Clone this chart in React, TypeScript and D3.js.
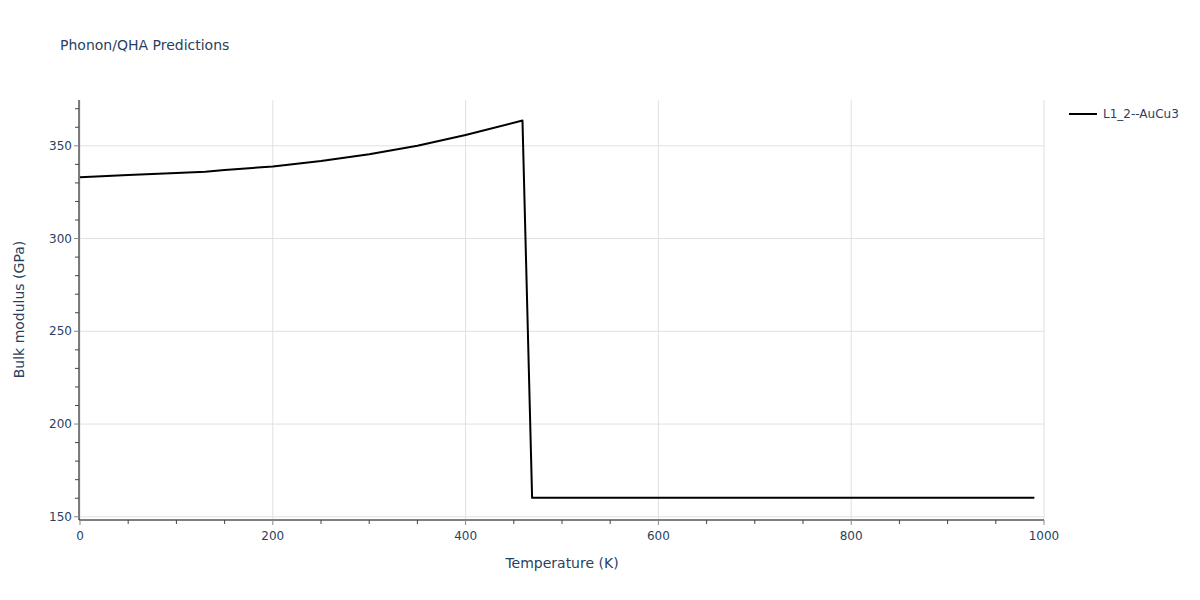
import React from "react";
import * as d3 from "d3";

const temperatures = [0, 50, 100, 130, 150, 200, 250, 300, 350, 400, 459, 469, 990];
const bulkModulus = [333.0, 334.2, 335.3, 336.0, 336.9, 338.9, 341.8, 345.5, 350.0, 355.8, 363.6, 160.2, 160.2];
const xTicks = [0, 200, 400, 600, 800, 1000];
const yTicks = [150, 200, 250, 300, 350];
const seriesName = "L1_2--AuCu3";
const titleText = "Phonon/QHA Predictions";
const xTitle = "Temperature (K)";
const yTitle = "Bulk modulus (GPa)";

const W = 1200, H = 600;
const L = 80, R = 1044, T = 100, B = 519;
const FONT = "'DejaVu Sans', Verdana, sans-serif";
const TXT = "#2a3f5f";

export default function App() {
  const x = d3.scaleLinear().domain([0, 1000]).range([L, R]);
  const y = d3.scaleLinear().domain([148.8, 374.7]).range([B, T]);
  const data = temperatures.map((t, i) => [t, bulkModulus[i]] as [number, number]);
  const line = d3.line<[number, number]>().x(d => x(d[0])).y(d => y(d[1]));
  const xMinor = d3.range(0, 1001, 50).filter(v => v % 200 !== 0);
  const yMinor = d3.range(150, 375, 10).filter(v => v % 50 !== 0);

  return (
    <svg width={W} height={H} style={{ position: "absolute", left: 0, top: 0, background: "#fff" }} fontFamily={FONT}>
      <rect x={0} y={0} width={W} height={H} fill="#fff" />
      {xTicks.map(v => (
        <line key={"gx" + v} x1={x(v)} x2={x(v)} y1={T} y2={B} stroke="#e0e0e0" strokeWidth={1} />
      ))}
      {yTicks.map(v => (
        <line key={"gy" + v} x1={L} x2={R} y1={y(v)} y2={y(v)} stroke="#e0e0e0" strokeWidth={1} />
      ))}
      <line x1={L - 1} x2={L - 1} y1={T} y2={B + 1} stroke="#000" strokeWidth={1} />
      <line x1={L - 1} x2={R} y1={B + 1} y2={B + 1} stroke="#000" strokeWidth={1} />
      {xTicks.map(v => (
        <g key={"tx" + v}>
          <line x1={x(v)} x2={x(v)} y1={B + 1} y2={B + 6} stroke="#888" strokeWidth={1} />
          <text x={x(v)} y={B + 21} textAnchor="middle" fontSize={12} fill={TXT}>{v}</text>
        </g>
      ))}
      {xMinor.map(v => (
        <line key={"mx" + v} x1={x(v)} x2={x(v)} y1={B + 1} y2={B + 5} stroke="#444" strokeWidth={1} />
      ))}
      {yTicks.map(v => (
        <g key={"ty" + v}>
          <line x1={L - 6} x2={L - 1} y1={y(v)} y2={y(v)} stroke="#888" strokeWidth={1} />
          <text x={L - 8} y={y(v) + 4} textAnchor="end" fontSize={12} fill={TXT}>{v}</text>
        </g>
      ))}
      {yMinor.map(v => (
        <line key={"my" + v} x1={L - 5} x2={L - 1} y1={y(v)} y2={y(v)} stroke="#444" strokeWidth={1} />
      ))}
      <path d={line(data) || ""} fill="none" stroke="#000" strokeWidth={2} strokeLinejoin="round" />
      <text x={60} y={50} fontSize={14} fill={TXT}>{titleText}</text>
      <text x={(L + R) / 2} y={568} textAnchor="middle" fontSize={14} fill={TXT}>{xTitle}</text>
      <text transform={`translate(24, ${(T + B) / 2}) rotate(-90)`} textAnchor="middle" fontSize={14} fill={TXT}>{yTitle}</text>
      <line x1={1069} x2={1097} y1={114} y2={114} stroke="#000" strokeWidth={2} />
      <text x={1103} y={118} fontSize={12} fill={TXT}>{seriesName}</text>
    </svg>
  );
}
